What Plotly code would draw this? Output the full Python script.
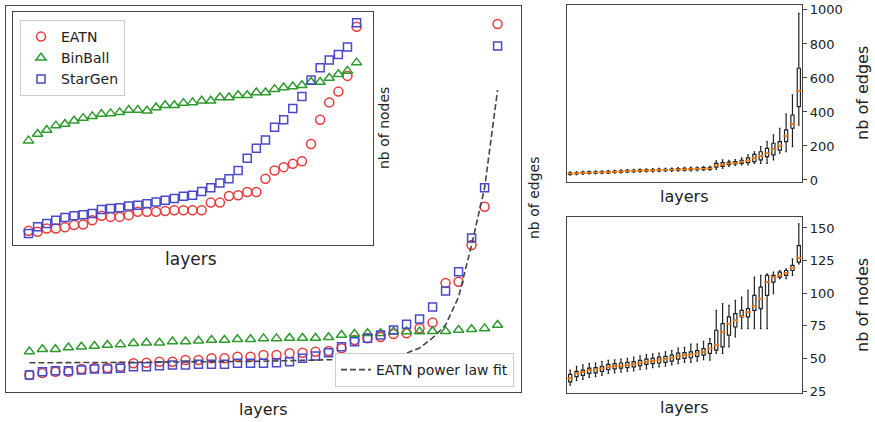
import plotly.graph_objects as go

W, H = 875, 422

# ---------------- data ----------------
layers = list(range(1, 38))

# main panel: number of edges per layer (sorted)
eatn_edges = [42.5, 47.5, 50.8, 50.8, 57.5, 60, 60, 63.3, 71.8, 73.3, 75.8, 75.8, 80, 80, 84.3, 84.3,
              88.3, 88.3, 92.5, 92.5, 96.8, 98.3, 100.8, 102.5, 109.3, 130, 134.3, 137.5, 145, 146.8,
              159.3, 173.8, 272.5, 275.8, 367.5, 463.3, 920]
binball_edges = [101, 107, 107, 111, 113, 115, 117.5, 119, 122, 123, 123, 126, 126, 128, 130, 130, 132,
                 132, 134, 134, 135, 135, 135, 137, 142.5, 145, 147, 147, 151, 151, 151, 152, 152, 155,
                 157, 159, 167.5]
stargen_edges = [42.5, 50.8, 53.3, 53.3, 55, 57.5, 57.5, 59.3, 63.3, 63.3, 65.8, 67.5, 67.5, 69.3, 69.3,
                 69.3, 71.8, 71.8, 71.8, 73.3, 75.8, 84.3, 90, 98.3, 113.3, 125.8, 134.3, 142.5, 155,
                 169.3, 182.5, 212.5, 252.5, 300.8, 385, 510.8, 865]
fit_edges = [73, 73, 73, 73, 73.5, 73.5, 74, 74, 74, 74.5, 74.5, 75, 75, 75, 75.5, 76, 76, 76.5, 77,
             77.5, 78, 78.5, 79, 80, 81, 82, 84, 86, 90, 97.5, 110, 135, 167.5, 237.5, 367.5, 510, 755]

# inset: number of nodes per layer (sorted)
eatn_nodes = [34.1, 33.6, 35.5, 35.5, 36.2, 37.4, 37.7, 40.2, 42.7, 42.1, 42.1, 43.1, 45.0, 45.0, 45.0,
              45.5, 45.9, 45.9, 45.9, 45.9, 50.3, 50.3, 54.1, 54.5, 56.4, 56.4, 64.0, 68.7, 70.6, 72.5,
              74.0, 83.9, 97.8, 107.7, 113.9, 122.9, 151.0]
binball_nodes = [85.8, 89.6, 91.9, 94.4, 95.3, 97.2, 98.7, 99.7, 101.0, 101.4, 102.0, 103.3, 103.3,
                 102.9, 104.8, 106.1, 106.1, 107.3, 107.7, 108.6, 108.6, 110.5, 110.5, 111.8, 111.8,
                 113.4, 113.4, 115.3, 116.2, 116.8, 117.5, 119.4, 119.4, 121.7, 123.8, 125.7, 130.5]
stargen_nodes = [32.6, 36.4, 38.3, 40.2, 41.7, 42.7, 43.4, 44.0, 46.3, 46.9, 47.4, 48.4, 48.8, 49.7,
                 50.7, 51.6, 52.6, 53.9, 54.5, 56.7, 58.8, 61.5, 64.0, 68.7, 75.7, 81.4, 86.2, 93.4,
                 97.8, 104.2, 111.1, 120.6, 127.6, 132.0, 135.2, 139.4, 153.3]

# right top: edge box plots
edges_q1 = [33, 36, 38, 39, 40, 41, 42, 44, 46, 48, 49, 51, 52, 53, 54, 55, 56, 57, 58, 59, 60, 61, 62,
            76, 80, 90, 94, 98, 102, 108, 118, 137, 147, 176, 225, 304, 431]
edges_med = [38, 40, 42, 43, 44, 45, 46, 48, 50, 52, 53, 55, 56, 57, 58, 59, 60, 62, 63, 64, 65, 66, 68,
             85, 90, 97, 100, 106, 115, 129, 141, 157, 181, 202, 259, 329, 525]
edges_q3 = [42, 44, 46, 47, 48, 49, 50, 52, 54, 56, 57, 59, 60, 61, 62, 63, 64, 67, 68, 69, 70, 72, 74,
            98, 102, 105, 108, 116, 130, 151, 166, 186, 216, 225, 294, 382, 657]
edges_lo = [28, 31, 33, 35, 36, 37, 38, 40, 42, 44, 45, 46, 47, 48, 49, 50, 51, 52, 53, 54, 55, 56, 57,
            62, 68, 80, 85, 88, 88, 98, 98, 98, 118, 157, 166, 196, 323]
edges_hi = [47, 49, 51, 52, 53, 54, 55, 57, 59, 61, 62, 64, 66, 67, 68, 69, 70, 73, 74, 75, 76, 78, 80,
            112, 118, 115, 120, 130, 147, 166, 196, 225, 265, 304, 388, 500, 980]

# right bottom: node box plots
nodes_q1 = [32.1, 36, 37, 38.5, 39, 40, 41.5, 42, 42.5, 43, 43.5, 44.5, 45.5, 46, 46.5, 47, 48, 49.5,
            50, 50.5, 51.5, 52.5, 53.8, 56.3, 58.9, 67.8, 74.1, 81.8, 81.8, 86.9, 88.2, 98.3, 108.5,
            112.3, 113.6, 117.4, 123.8]
nodes_med = [34.7, 38.5, 39.7, 41, 41.5, 42.3, 43.6, 44.1, 44.3, 44.9, 45.6, 46.6, 47.4, 48.1, 48.7,
             49.4, 50.4, 51.7, 52.5, 53, 53.8, 55, 57.6, 60.1, 70.3, 76.7, 79.2, 82.3, 85.6, 89.9, 95.8,
             108.5, 112.3, 113.6, 115.4, 119.5, 127.1]
nodes_q3 = [37.8, 40, 41, 42.5, 43, 44, 45.5, 46, 46.5, 47, 47.5, 48.5, 49.5, 50, 51, 51.5, 52.5, 54,
            54.5, 55, 56, 57.5, 61.4, 71.6, 76.7, 81.8, 84.3, 86.9, 88.2, 98.3, 104.7, 113.6, 113.6,
            116.2, 117.4, 121.3, 136.5]
nodes_lo = [29.6, 33, 34, 35.5, 36, 37, 38.5, 39, 39.5, 40, 40.5, 41.5, 42, 43, 43.5, 44, 45, 46, 47, 47,
            48, 49, 48.7, 53.8, 53.8, 58.9, 66.5, 72.9, 72.9, 72.9, 72.9, 72.9, 99.6, 111.1, 111.1,
            113.6, 122.5]
nodes_hi = [41, 44, 45, 46, 46.5, 47.5, 48.5, 49, 49.5, 50, 51, 52, 53, 53.5, 54, 55, 56, 58, 58.5, 61,
            61, 63, 65.2, 86.9, 92, 90.7, 94.5, 97.1, 102.2, 112.3, 113.6, 114.9, 116.2, 117.4, 118.7,
            126.3, 153.1]

edge_ticks = [0, 200, 400, 600, 800, 1000]
node_ticks = [25, 50, 75, 100, 125, 150]

# ---------------- style ----------------
RED, GREEN, BLUE = "#e8393b", "#2e9a2e", "#4848c8"
FRAME = "#444444"
FONT = "DejaVu Sans"


def dx(a, b):
    return [a / W, b / W]


def dy(top, bottom):
    return [1 - bottom / H, 1 - top / H]


fig = go.Figure()

# main panel
for name, ys, sym, col, sz in [("EATN", eatn_edges, "circle-open", RED, 9),
                               ("BinBall", binball_edges, "triangle-up-open", GREEN, 9),
                               ("StarGen", stargen_edges, "square-open", BLUE, 8)]:
    fig.add_trace(go.Scatter(x=layers, y=ys, mode="markers", showlegend=False,
                             marker=dict(symbol=sym, size=sz, color=col, line=dict(color=col, width=1.5)),
                             xaxis="x", yaxis="y"))
fig.add_trace(go.Scatter(x=layers, y=fit_edges, mode="lines", name="EATN power law fit",
                         line=dict(color="#444444", width=1.6, dash="6px,3px"),
                         legend="legend2", xaxis="x", yaxis="y"))

# inset
for name, ys, sym, col, sz in [("EATN", eatn_nodes, "circle-open", RED, 9),
                               ("BinBall", binball_nodes, "triangle-up-open", GREEN, 9),
                               ("StarGen", stargen_nodes, "square-open", BLUE, 8)]:
    fig.add_trace(go.Scatter(x=layers, y=ys, mode="markers", name=name, legend="legend",
                             marker=dict(symbol=sym, size=sz, color=col, line=dict(color=col, width=1.5)),
                             xaxis="x2", yaxis="y2"))

# box plots
for xa, ya, q1, med, q3, lo, hi in [("x3", "y3", edges_q1, edges_med, edges_q3, edges_lo, edges_hi),
                                     ("x4", "y4", nodes_q1, nodes_med, nodes_q3, nodes_lo, nodes_hi)]:
    fig.add_trace(go.Box(x=layers, q1=q1, median=med, q3=q3, lowerfence=lo, upperfence=hi,
                         width=0.5, whiskerwidth=0.5, boxpoints=False, showlegend=False,
                         line=dict(color="#222222", width=1.2), fillcolor="rgba(255,255,255,0)",
                         xaxis=xa, yaxis=ya))
    fig.add_trace(go.Scatter(x=layers, y=med, mode="markers", showlegend=False,
                             marker=dict(symbol="line-ew", size=4,
                                         line=dict(color="#ff7f0e", width=1.6)),
                             xaxis=xa, yaxis=ya))

frame = dict(showline=True, mirror=True, linecolor=FRAME, linewidth=1.3, showgrid=False,
             zeroline=False, showticklabels=False, ticks="")

fig.update_layout(
    width=W, height=H, margin=dict(l=0, r=0, t=0, b=0),
    paper_bgcolor="white", plot_bgcolor="white",
    font=dict(family=FONT, color="#222222"),
    xaxis=dict(domain=dx(6, 521), range=[-0.8, 38.8], anchor="y", **frame),
    yaxis=dict(domain=dy(6, 392), range=[0, 965], anchor="x", **frame),
    xaxis2=dict(domain=dx(13, 373), range=[-0.7, 38.8], anchor="y2", **frame),
    yaxis2=dict(domain=dy(12, 245), range=[26, 159.5], anchor="x2", **frame),
    xaxis3=dict(domain=dx(567, 802), range=[0.5, 37.5], anchor="y3", **frame),
    yaxis3=dict(domain=dy(5, 182), range=[-12, 1029], anchor="x3", side="right",
                showline=True, mirror=True, linecolor=FRAME, linewidth=1.3, showgrid=False,
                zeroline=False, tickvals=edge_ticks, ticks="outside", ticklen=4, tickcolor=FRAME,
                tickfont=dict(size=13), automargin=False),
    xaxis4=dict(domain=dx(567, 802), range=[0.5, 37.5], anchor="y4", **frame),
    yaxis4=dict(domain=dy(217, 393), range=[23.5, 158.4], anchor="x4", side="right",
                showline=True, mirror=True, linecolor=FRAME, linewidth=1.3, showgrid=False,
                zeroline=False, tickvals=node_ticks, ticks="outside", ticklen=4, tickcolor=FRAME,
                tickfont=dict(size=13), automargin=False),
    legend=dict(x=20 / W, y=1 - 20 / H, xanchor="left", yanchor="top", bgcolor="white",
                bordercolor="#cccccc", borderwidth=1, font=dict(size=14), tracegroupgap=0),
    legend2=dict(x=514 / W, y=1 - 387 / H, xanchor="right", yanchor="bottom", bgcolor="white",
                 bordercolor="#cccccc", borderwidth=1, font=dict(size=14)),
)


def label(text, x, y, size, angle=0):
    fig.add_annotation(text=text, x=x / W, y=1 - y / H, xref="paper", yref="paper",
                       showarrow=False, textangle=angle, font=dict(size=size, family=FONT, color="#222222"),
                       xanchor="center", yanchor="middle")


label("layers", 263, 409, 16)
label("layers", 191, 259, 17)
label("layers", 684, 196, 16)
label("layers", 684, 407, 16)
label("nb of edges", 534, 198, 14, -90)
label("nb of nodes", 384, 128, 14, -90)
label("nb of edges", 862, 93, 16, -90)
label("nb of nodes", 862, 305, 16, -90)

fig.write_html("out.html", config={"displayModeBar": False},
               post_script="document.body.style.margin='0';document.body.style.overflow='hidden';")
